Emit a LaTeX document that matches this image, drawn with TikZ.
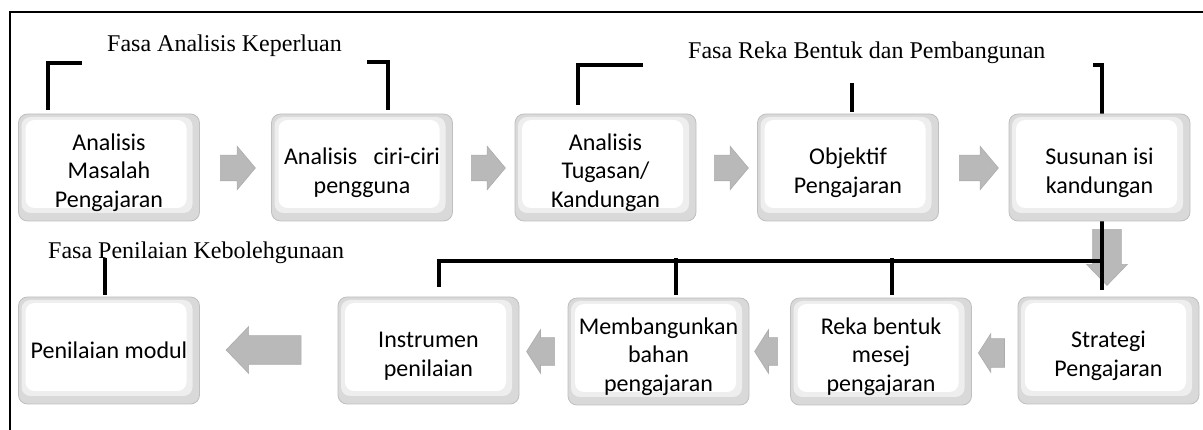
\documentclass[tikz,border=0pt]{standalone}
\usepackage{fontspec}
\setmainfont{Liberation Serif}
\newfontfamily\boxfont{Carlito}
\usetikzlibrary{shapes.arrows,calc}
\newcommand{\sttwo}{\rule{0pt}{27pt}}
\newcommand{\stthree}{\rule{0pt}{27pt}}
\begin{document}
\begin{tikzpicture}[x=1pt,y=-1pt,
  stepbox/.style={rounded corners=9pt, minimum width=181pt, minimum height=107pt,
    inner sep=0pt, draw=gray!50, line width=0.8pt, fill=gray!30, align=center,
    font={\boxfont\fontsize{24}{28.5}\selectfont},
    path picture={
      \fill[gray!13] ([shift={(3pt,-3pt)}]path picture bounding box.north west) rectangle ([shift={(-7pt,8pt)}]path picture bounding box.south east);
      \fill[white] ([shift={(7pt,-6pt)}]path picture bounding box.north west) rectangle ([shift={(-13pt,13pt)}]path picture bounding box.south east);
    }},
  blockarrow/.style={single arrow, fill=gray!55, draw=gray!65, line width=0.6pt, inner xsep=0pt},
  bracket/.style={line width=4.5pt, black},
  phase/.style={font=\fontsize{24}{29}\selectfont, inner sep=0pt, anchor=base west}
]
\useasboundingbox (0,0) rectangle (1203,430);
% outer frame
\draw[line width=1.5pt] (10,430) -- (10,12) -- (1203,12);

% block arrows
\node[blockarrow, minimum height=35pt, inner ysep=12.5pt, single arrow head extend=9pt, single arrow tip angle=100] (a1) at (232.5,168) {};
\node[blockarrow, minimum height=34pt, inner ysep=12.5pt, single arrow head extend=9pt, single arrow tip angle=100] (a2) at (483,168) {};
\node[blockarrow, minimum height=34pt, inner ysep=12.5pt, single arrow head extend=9pt, single arrow tip angle=100] (a3) at (726,168) {};
\node[blockarrow, minimum height=39pt, inner ysep=12.5pt, single arrow head extend=9pt, single arrow tip angle=100] (a4) at (973.5,168) {};
\node[blockarrow, rotate=-90, minimum height=56pt, inner ysep=14pt, single arrow head extend=6pt, single arrow tip angle=88] (a5) at (1107,250) {};
\node[blockarrow, rotate=180, minimum height=26pt, inner ysep=14pt, single arrow head extend=5pt, single arrow tip angle=115] (a6) at (996,353) {};
\node[blockarrow, rotate=180, minimum height=23pt, inner ysep=13.5pt, single arrow head extend=8pt, single arrow tip angle=115] (a7) at (770.5,351.5) {};
\node[blockarrow, rotate=180, minimum height=28pt, inner ysep=13.5pt, single arrow head extend=8pt, single arrow tip angle=115] (a8) at (545,351.5) {};
\node[blockarrow, rotate=180, minimum height=75pt, inner ysep=14pt, single arrow head extend=9pt, single arrow tip angle=92] (a9) at (270.5,350) {};

% brackets
\draw[bracket] (48,110) -- (48,63) -- (82,63);
\draw[bracket] (367,62) -- (388,62) -- (388,110);
\draw[bracket] (578,105) -- (578,65) -- (643,65);
\draw[bracket] (852,83) -- (852,112);
\draw[bracket] (1093,65) -- (1102,65) -- (1102,290);
\draw[bracket] (439,287) -- (439,261) -- (1104,261);
\draw[bracket] (676,258) -- (676,295);
\draw[bracket] (892,258) -- (892,295);
\draw[bracket] (105,258) -- (105,295);

% boxes
\node[stepbox] (b1) at (109,167.5) {\stthree Analisis\\Masalah\\Pengajaran};
\node[stepbox] (b2) at (362,167.5) {\sttwo Analisis\hspace{0.45em} ciri-ciri\\pengguna};
\node[stepbox] (b3) at (605.5,167.5) {\stthree Analisis\\Tugasan/\\Kandungan};
\node[stepbox] (b4) at (848,167.5) {\sttwo Objektif\\Pengajaran};
\node[stepbox] (b5) at (1099.5,167.5) {\sttwo Susunan isi\\kandungan};
\node[stepbox] (c1) at (109,350.5) {Penilaian modul};
\node[stepbox] (c2) at (428.5,350.5) {\sttwo Instrumen\\penilaian};
\node[stepbox] (c3) at (658.5,351.5) {\stthree Membangunkan\\bahan\\pengajaran};
\node[stepbox] (c4) at (881,351.5) {\stthree Reka bentuk\\mesej\\pengajaran};
\node[stepbox] (c5) at (1108.5,350.5) {\sttwo Strategi\\Pengajaran};

% phase labels
\node[phase] (p1) at (107,52) {Fasa Analisis Keperluan};
\node[phase] (p2) at (688,59) {Fasa Reka Bentuk dan Pembangunan};
\node[phase] (p3) at (48,259) {Fasa Penilaian Kebolehgunaan};
\end{tikzpicture}
\end{document}
